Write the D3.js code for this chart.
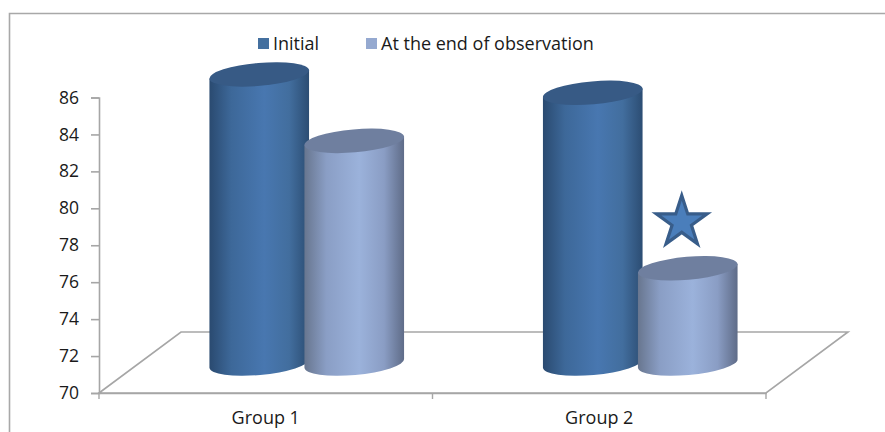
<!DOCTYPE html>
<html><head><meta charset="utf-8">
<script src="https://cdn.jsdelivr.net/npm/d3@7/dist/d3.min.js"></script>
<style>html,body{margin:0;padding:0;background:#fff}svg{display:block}text{font-family:"Open Sans",Lato,sans-serif;fill:#1a1a1a}</style>
</head><body><svg id="c" width="885" height="432"></svg>
<script>
const categories = ["Group 1", "Group 2"];
const seriesNames = ["Initial", "At the end of observation"];
const initialValues = [85.6, 84.6];
const endValues = [82.0, 75.1];
const yTicks = [70, 72, 74, 76, 78, 80, 82, 84, 86];
const starCategory = "Group 2";
const starValue = 77.6;

const svg = d3.select("#c");
const x = d3.scaleBand().domain(categories).range([99, 766]);
const y = d3.scaleLinear().domain([70, 86]).range([393, 97.5]);
const depthX = 82, depthY = 61;
const defs = svg.append("defs");
const palettes = [
  {stops:["#2a4a70","#3d6899","#4877b0","#426e9e","#2c4d73"], cap:"#375a85", key:"#44709f"},
  {stops:["#68768f","#8a9ec5","#9bb2db","#8a9dc4","#5f6c88"], cap:"#6f7f9f", key:"#95a9d0"}
];
palettes.forEach((p,i)=>{
  const g = defs.append("linearGradient").attr("id","g"+i);
  [0,.22,.55,.8,1].forEach((o,j)=>g.append("stop").attr("offset",o).attr("stop-color",p.stops[j]));
});
// frame
svg.append("path").attr("d","M9.5,432V13.5H885").attr("fill","none").attr("stroke","#a8a8a8").attr("stroke-width",1.6);
// floor
const x0=x.range()[0], x1=x.range()[1], y0=y(70), axisC="#a6a6a6";
svg.append("path").attr("d",`M${x0},${y0}L${x0+depthX},${y0-depthY}H${x1+depthX}L${x1},${y0}Z`)
  .attr("fill","#fff").attr("stroke",axisC).attr("stroke-width",1.6);
// axes
const yAxis = svg.append("g").attr("transform",`translate(${x0},0)`)
  .call(d3.axisLeft(y).tickValues(yTicks).tickSize(8).tickPadding(12));
const xAxis = svg.append("g").attr("transform",`translate(0,${y0})`)
  .call(d3.axisBottom(x).tickSize(0).tickPadding(18));
[yAxis,xAxis].forEach(a=>{a.selectAll("path,line").attr("stroke",axisC).attr("stroke-width",1.6);
  a.selectAll("text").style("font-family","'Open Sans',Lato,sans-serif").style("font-size","17.5px").attr("fill","#1a1a1a");});
xAxis.selectAll("text").style("font-size","18px");
xAxis.selectAll(".edge").data([x0,x0+x.step(),x1]).join("line").attr("class","edge")
  .attr("x1",d=>d).attr("x2",d=>d).attr("y1",0).attr("y2",6).attr("stroke",axisC).attr("stroke-width",1.4);
// cylinders
const rx=50, ry=11.5, rot=5, off=47.5;
const ex=rx*Math.cos(rot*Math.PI/180), ey=rx*Math.sin(rot*Math.PI/180);
function cyl(g,cat,val,s){
  const cx=x(cat)+x.bandwidth()/2+(s?off:-off)+depthX/2;
  const top=y(val)-depthY/2, bot=y0-depthY/2+1;
  g.append("path").attr("d",`M${cx-ex},${top+ey}L${cx-ex},${bot+ey}A${rx},${ry},${-rot},0,0,${cx+ex},${bot-ey}L${cx+ex},${top-ey}Z`)
    .attr("fill",`url(#g${s})`);
  g.append("ellipse").attr("rx",rx).attr("ry",ry).attr("transform",`translate(${cx},${top}) rotate(${-rot})`)
    .attr("fill",palettes[s].cap);
}
const bars=svg.append("g");
categories.forEach((c,i)=>{cyl(bars,c,initialValues[i],0);cyl(bars,c,endValues[i],1);});
// star
svg.append("path").attr("d",d3.symbol(d3.symbolStar,800)())
  .attr("transform",`translate(${x(starCategory)+x.bandwidth()/2+off+depthX/2-6},${y(starValue)-depthY/2})`)
  .attr("fill","#4a7ebb").attr("stroke","#385d8a").attr("stroke-width",3.2);
// legend
const lx=[258,366];
seriesNames.forEach((n,i)=>{
  svg.append("rect").attr("x",lx[i]).attr("y",38).attr("width",11).attr("height",11).attr("fill",palettes[i].key);
  svg.append("text").attr("x",lx[i]+15).attr("y",50).style("font-size","18px").text(n);
});
</script></body></html>
